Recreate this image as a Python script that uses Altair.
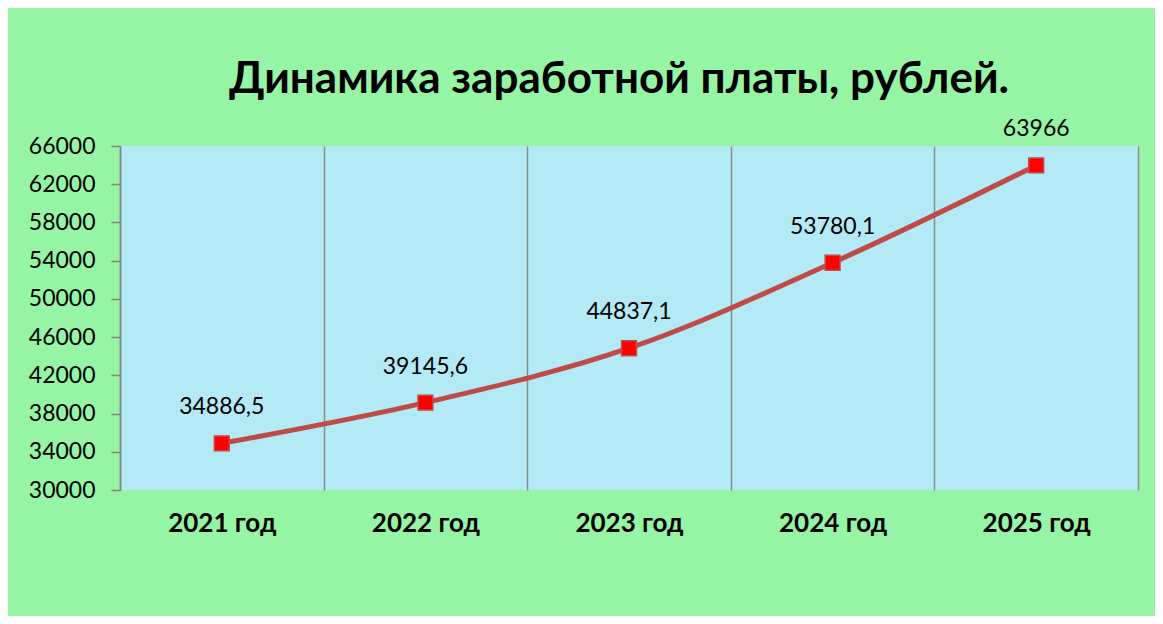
import altair as alt
import pandas as pd

years = ["2021 год", "2022 год", "2023 год", "2024 год", "2025 год"]
salary = [34886.5, 39145.6, 44837.1, 53780.1, 63966]
labels = ["34886,5", "39145,6", "44837,1", "53780,1", "63966"]
y_ticks = [30000, 34000, 38000, 42000, 46000, 50000, 54000, 58000, 62000, 66000]

df = pd.DataFrame({"year": years, "salary": salary, "label": labels})

FONT = "Lato"

x_enc = alt.X(
    "year:N",
    sort=years,
    bandPosition=0.5,
    scale=alt.Scale(type="band", paddingInner=0, paddingOuter=0),
    axis=alt.Axis(
        title=None,
        grid=True,
        tickBand="extent",
        gridColor="#8C8C8C",
        gridWidth=1.5,
        domain=False,
        ticks=False,
        labelFont=FONT,
        labelFontSize=26,
        labelFontWeight="bold",
        labelColor="#000000",
        labelPadding=20,
        labelAngle=0,
    ),
)
y_enc = alt.Y(
    "salary:Q",
    scale=alt.Scale(domain=[30000, 66000], nice=False, zero=False),
    axis=alt.Axis(
        title=None,
        values=y_ticks,
        format="d",
        grid=False,
        domain=True,
        domainColor="#868686",
        domainWidth=1.5,
        ticks=True,
        tickColor="#868686",
        tickWidth=1.5,
        tickSize=9,
        labelFont=FONT,
        labelFontSize=23,
        labelColor="#000000",
        labelPadding=16,
    ),
)

base = alt.Chart(df).encode(x=x_enc, y=y_enc)

line = base.mark_line(color="#BE4B48", strokeWidth=5, interpolate="catmull-rom")
points = base.mark_point(
    shape="square", size=220, filled=True, fill="#FF0000", stroke="#BE4B48", strokeWidth=1.5, opacity=1
)
text = base.mark_text(dy=-36, fontSize=23, font=FONT, color="#000000").encode(text="label:N")

chart = (
    alt.layer(line, points, text)
    .properties(
        width=1018,
        height=344,
        title=alt.TitleParams(
            "Динамика заработной платы, рублей.",
            font=FONT,
            fontSize=44,
            fontWeight="bold",
            color="#000000",
            anchor="middle",
            frame="group",
            offset=16,
            dx=-10,
        ),
        autosize=alt.AutoSizeParams(type="none"),
        padding={"left": 112, "top": 138, "right": 17, "bottom": 126},
        background="#96F5A4",
    )
    .configure_view(fill="#B4EAF5", stroke=None)
)

chart.save("out.html", embed_options={"renderer": "svg", "actions": False})
